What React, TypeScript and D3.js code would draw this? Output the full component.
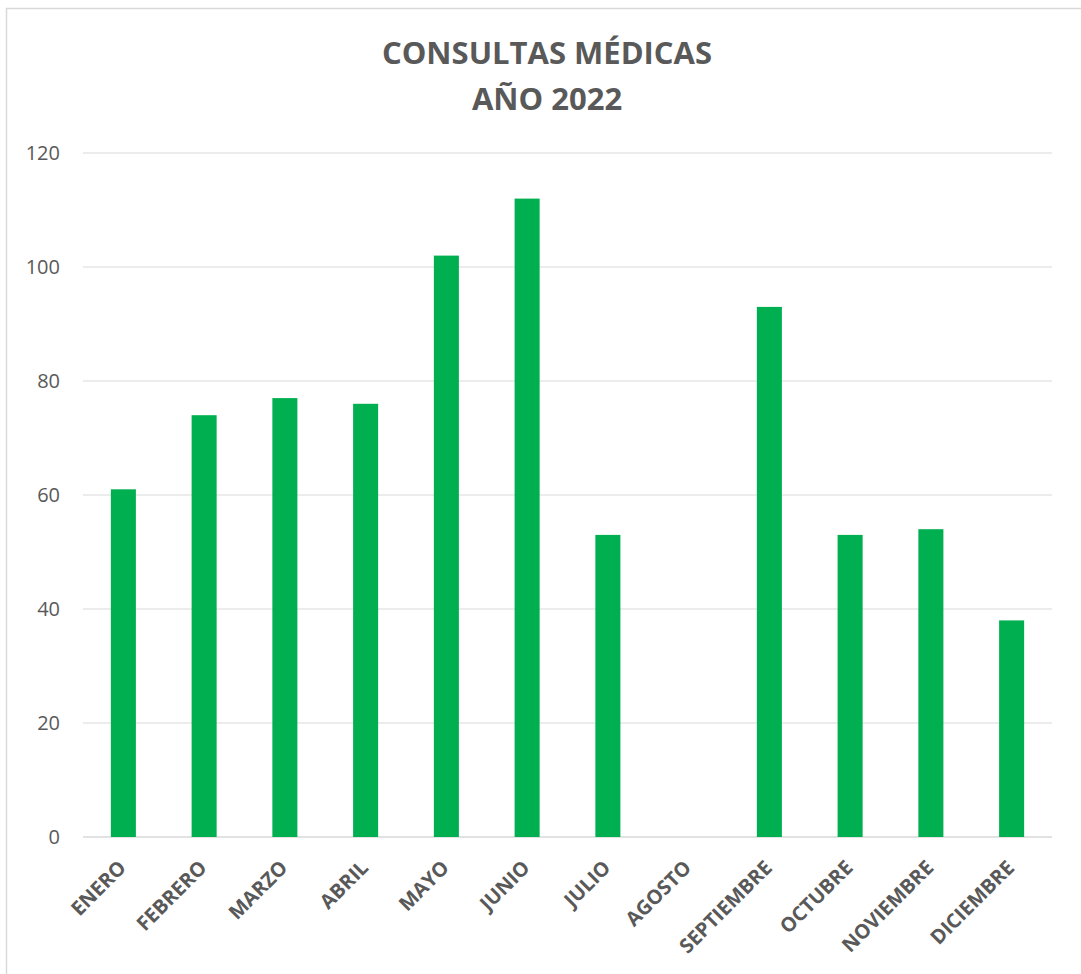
import React from "react";
import * as d3 from "d3";

const months = ["ENERO","FEBRERO","MARZO","ABRIL","MAYO","JUNIO","JULIO","AGOSTO","SEPTIEMBRE","OCTUBRE","NOVIEMBRE","DICIEMBRE"];
const values = [61, 74, 77, 76, 102, 112, 53, 0, 93, 53, 54, 38];
const yTicks = [0, 20, 40, 60, 80, 100, 120];
const titleLines = ["CONSULTAS MÉDICAS", "AÑO 2022"];

export default function App() {
  const W = 1081, H = 974;
  const left = 83, right = 1052, top = 153, bottom = 837;
  const x = d3.scaleBand<string>().domain(months).range([left, right]).paddingInner(0.69).paddingOuter(0.345);
  const y = d3.scaleLinear().domain([0, 120]).range([bottom, top]);
  const font = "'Open Sans', 'DejaVu Sans', sans-serif";
  return (
    <svg width={W} height={H} style={{ position: "absolute", left: 0, top: 0 }} fontFamily={font}>
      <rect x={0} y={0} width={W} height={H} fill="#fff" />
      <rect x={6.5} y={8.5} width={W + 10} height={H + 10} fill="none" stroke="#d9d9d9" strokeWidth={1.5} />
      {titleLines.map((t, i) => (
        <text key={i} x={547} y={64 + i * 46} textAnchor="middle" fontSize={31} fontWeight="bold" fill="#595959">{t}</text>
      ))}
      {yTicks.map(t => (
        <g key={t}>
          <line x1={left} x2={right} y1={y(t)} y2={y(t)} stroke="#d9d9d9" strokeWidth={t === 0 ? 1.5 : 1} />
          <text x={60} y={y(t)} dy="0.35em" textAnchor="end" fontSize={20} fill="#595959">{t}</text>
        </g>
      ))}
      {months.map((m, i) => (
        <rect key={m} x={x(m)} y={y(values[i])} width={x.bandwidth()} height={y(0) - y(values[i])} fill="#00B050" />
      ))}
      {months.map(m => {
        const cx = (x(m) as number) + x.bandwidth() / 2;
        return (
          <text key={m} transform={`translate(${cx - 1},${864}) rotate(-45)`} textAnchor="end" dy="0.35em" fontSize={20} fontWeight="bold" fill="#595959">{m}</text>
        );
      })}
    </svg>
  );
}
